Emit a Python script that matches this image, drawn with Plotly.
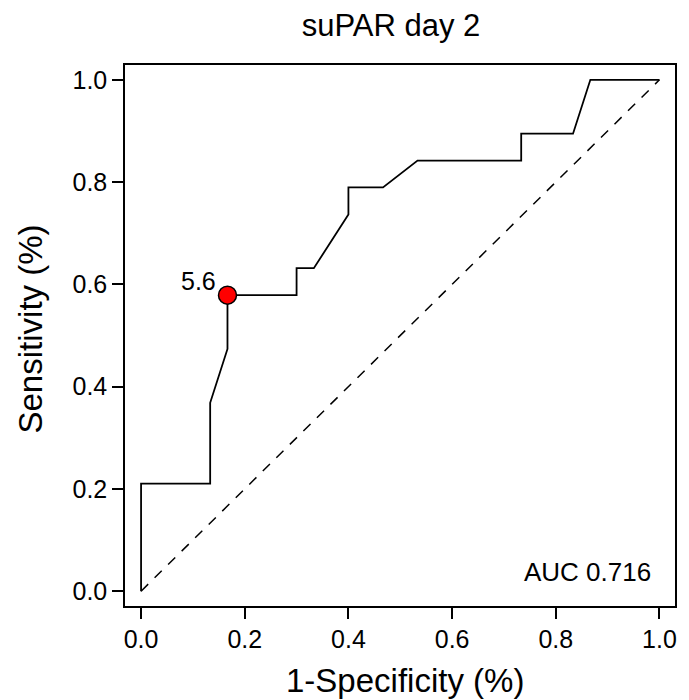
import plotly.graph_objects as go

# ROC curve data (1-specificity, sensitivity)
fpr = [0.0, 0.0, 0.1333, 0.1333, 0.1667, 0.1667, 0.3, 0.3, 0.3333, 0.4, 0.4, 0.4667, 0.5333, 0.7333, 0.7333, 0.8333, 0.8667, 1.0]
tpr = [0.0, 0.2105, 0.2105, 0.3684, 0.4737, 0.5789, 0.5789, 0.6316, 0.6316, 0.7368, 0.7895, 0.7895, 0.8421, 0.8421, 0.8947, 0.8947, 1.0, 1.0]
ref_x = [0.0, 1.0]
ref_y = [0.0, 1.0]
cut_x = [0.1667]
cut_y = [0.5789]
cut_label = "5.6"
auc_text = "AUC 0.716"
tick_vals = [0.0, 0.2, 0.4, 0.6, 0.8, 1.0]
tick_text = ["0.0", "0.2", "0.4", "0.6", "0.8", "1.0"]
x_title = "1-Specificity (%)"
y_title = "Sensitivity (%)"
chart_title = "suPAR day 2"

FONT = "Liberation Sans, Arial, Helvetica, sans-serif"

fig = go.Figure()
fig.add_trace(go.Scatter(x=ref_x, y=ref_y, mode="lines",
                         line=dict(color="black", width=1.5, dash="10px,9px"),
                         hoverinfo="skip", showlegend=False))
fig.add_trace(go.Scatter(x=fpr, y=tpr, mode="lines",
                         line=dict(color="black", width=1.8),
                         showlegend=False))
fig.add_trace(go.Scatter(x=cut_x, y=cut_y, mode="markers",
                         marker=dict(color="#ff0000", size=18, line=dict(color="black", width=1.5)),
                         showlegend=False))

fig.add_annotation(x=cut_x[0], y=cut_y[0], xref="x", yref="y", text=cut_label,
                   showarrow=False, xanchor="right", yanchor="middle",
                   xshift=-9, yshift=14,
                   font=dict(family=FONT, size=25, color="black"))

fig.add_annotation(x=0.988, y=0.037, xref="x", yref="y", text=auc_text,
                   showarrow=False, xanchor="right", yanchor="middle",
                   font=dict(family=FONT, size=26, color="black"))

# axis titles
fig.add_annotation(x=0.5, y=0, xref="paper", yref="paper", text=x_title,
                   showarrow=False, xanchor="center", yanchor="middle",
                   xshift=5, yshift=-74,
                   font=dict(family=FONT, size=33, color="black"))
fig.add_annotation(x=0, y=0.5, xref="paper", yref="paper", text=y_title,
                   showarrow=False, xanchor="center", yanchor="middle", textangle=-90,
                   xshift=-95, yshift=6,
                   font=dict(family=FONT, size=33, color="black"))

axis_common = dict(
    showline=True, mirror=True, linecolor="black", linewidth=1.5,
    ticks="outside", ticklen=11, tickwidth=1.5, tickcolor="black",
    showgrid=False, zeroline=False, automargin=False,
    tickvals=tick_vals, ticktext=tick_text,
    tickfont=dict(family=FONT, size=25, color="black"),
)

fig.update_xaxes(range=[-0.031, 1.03], ticklabelstandoff=-1, **axis_common)
fig.update_yaxes(range=[-0.029, 1.029], **axis_common)

fig.update_layout(
    width=689, height=700,
    margin=dict(l=117, r=22, t=57, b=102, autoexpand=False),
    paper_bgcolor="white", plot_bgcolor="white",
    title=dict(text=chart_title, x=383 / 689, xanchor="center", y=1 - 17 / 700, yanchor="middle",
               xref="container", yref="container",
               font=dict(family=FONT, size=31, color="black")),
)

fig.write_html("out.html")
